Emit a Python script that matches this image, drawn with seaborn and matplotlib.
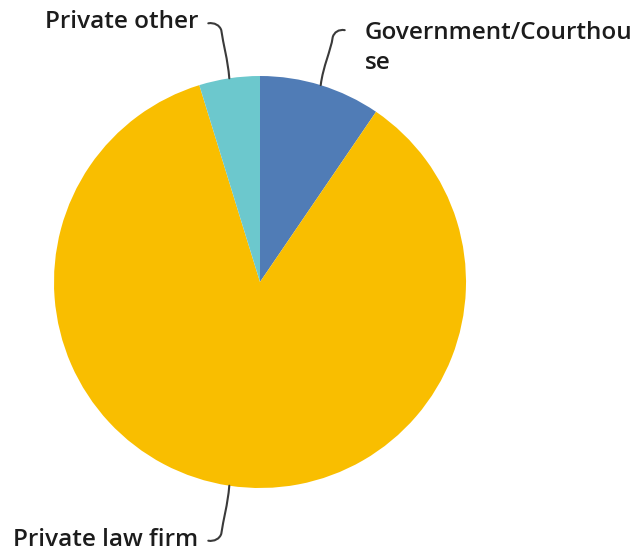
import numpy as np
import matplotlib
matplotlib.use("Agg")
import matplotlib.pyplot as plt
from matplotlib.path import Path
from matplotlib.patches import PathPatch
import seaborn as sns

# Workplace categories and response counts
categories = ["Government/Courthouse", "Private law firm", "Private other"]
counts = [2, 18, 1]
label_lines = ["Government/Courthou\nse", "Private law firm", "Private other"]

colors = ["#507cb6", "#f9be00", "#6cc8cd"]

sns.set_theme(style="white")
plt.rcParams["font.family"] = ["Open Sans", "DejaVu Sans"]

W, H = 633, 560
fig = plt.figure(figsize=(W / 100, H / 100), dpi=100)
ax = fig.add_axes([0, 0, 1, 1])

cx, cy, r = 260, H - 282, 206
wedges, _ = ax.pie(counts, colors=colors, startangle=90, counterclock=False,
                   center=(cx, cy), radius=r, frame=True,
                   wedgeprops=dict(linewidth=0))
ax.set_xlim(0, W)
ax.set_ylim(0, H)
ax.set_aspect("equal")
ax.set_axis_off()


def leader(theta_deg, rise_dir, hook_dir, length=48, hook=13, lean=8):
    """Curved callout from the slice rim: a gentle rise ending in a short hook."""
    t = np.deg2rad(theta_deg)
    x0, y0 = cx + r * np.cos(t), cy + r * np.sin(t)
    # top of the rise, leaning toward the label side
    x1 = x0 + hook_dir * lean
    y1 = y0 + rise_dir * length
    # end of the hook
    x2 = x1 + hook_dir * hook
    y2 = y1 + rise_dir * 7
    verts = [(x0, y0),
             (x0 + hook_dir * lean * 0.2, y0 + rise_dir * length * 0.4),
             (x1 - hook_dir * 2, y1 - rise_dir * 14),
             (x1, y1),
             (x1 + hook_dir * 1.5, y1 + rise_dir * 5),
             (x2 - hook_dir * 6, y2 + rise_dir * 1),
             (x2, y2)]
    codes = [Path.MOVETO, Path.CURVE4, Path.CURVE4, Path.CURVE4,
             Path.CURVE4, Path.CURVE4, Path.CURVE4]
    ax.add_patch(PathPatch(Path(verts, codes), fill=False, lw=1.5,
                           edgecolor="#3a3a3a", capstyle="round"))
    return x2, y2


text_style = dict(fontsize=17.5, fontweight="semibold", color="#1c1c1c")

for w, name, lbl in zip(wedges, categories, label_lines):
    mid = 0.5 * (w.theta1 + w.theta2)
    up = 1 if np.sin(np.deg2rad(mid)) > 0 else -1
    right = 1 if np.cos(np.deg2rad(mid)) > 0 else -1
    if right > 0:
        ex, ey = leader(mid, up, right, lean=12, hook=12)
        ax.text(ex + 20, ey + 9, lbl, ha="left", va="top",
                linespacing=1.3, **text_style)
    else:
        ex, ey = leader(mid, up, right)
        ax.text(ex - 10, ey + 1, lbl, ha="right", va="center", **text_style)

fig.savefig("out.png", dpi=100, facecolor="white")
